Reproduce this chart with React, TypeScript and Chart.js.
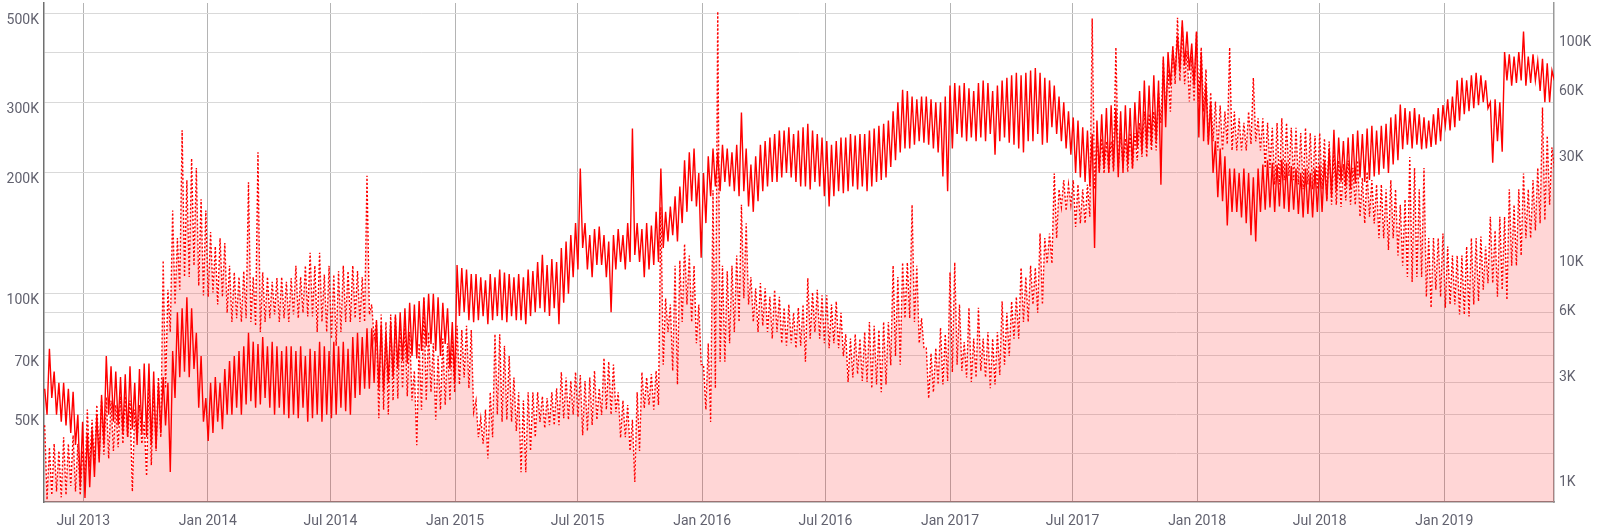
import React, { useEffect, useRef } from "react";
import { Chart, registerables } from "chart.js";

Chart.register(...registerables);

// Half-weekly samples starting 2013-05-05 (values in thousands):
// each pair = weekday high, weekend low
const START_DATE = "2013-05-05";
const STEP_DAYS = 3.5;

// Solid series (left axis)
const solid2013 = [58,50,73,55,64,50,60,48, 60,47,58,45,57,42,50,33, 48,31,45,33,46,35,50,38,56,42, 70,50,66,48,64,47,62,45, 63,44,66,46,60,42,65,45,67,44, 67,42,64,41,60,45,62,47, 60,36,72,55,90,62,92,64, 98,62,92,65,80,52,70,48,55,43];
const solid2014 = [60,45,62,48,60,46,65,50, 68,50,70,52,72,50,74,53, 80,54,76,52,75,53,78,55,74,52, 76,50,74,52,72,50,74,49, 74,50,72,49,74,52,70,48, 73,49,72,50,76,48,74,50,72,49, 76,50,74,52,76,51,73,50, 78,55,80,56,78,58,82,58, 82,60,86,58,84,57,80,60,85,62, 88,65,90,68,92,67,95,70, 94,69,96,72,98,74,100,75, 100,72,98,70,95,75,92,65,85,60];
const solid2015 = [118,88,116,90,115,86,112,85, 112,86,110,88,108,84,112,86, 110,88,115,86,113,85,112,88,110,86, 112,86,110,84,115,88,114,90, 120,92,125,90,118,88,122,92, 120,84,130,95,135,100,140,110,150,115, 205,130,150,115,140,110,145,118, 147,118,140,110,135,90,140,115, 145,120,140,115,150,120,258,125,150,120, 145,110,150,115,148,118,160,120, 205,130,160,135,165,140,175,135, 185,150,215,160,225,170,230,165,200,123];
const solid2016 = [200,150,220,175,230,185,225,180, 235,190,230,185,225,180,235,175, 283,180,230,165,210,160,220,170,235,180, 240,185,245,190,250,190,255,195, 255,200,260,195,250,190,255,185, 260,185,265,182,255,190,250,185,245,175, 240,165,235,175,240,180,245,178, 245,180,250,185,248,182,250,185, 250,180,255,185,258,190,262,192,265,195, 270,207,285,215,300,225,322,230, 320,230,310,235,305,240,310,238, 310,235,305,230,300,225,300,196,310,180];
const solid2017 = [330,230,335,250,330,245,335,240, 325,245,320,240,335,245,340,240, 335,250,320,222,330,240,340,245,345,238, 350,235,355,230,350,225,355,240, 360,240,365,250,355,235,345,238, 340,260,330,250,310,240,300,230,285,222, 275,200,270,195,260,190,255,185, 250,130,270,200,280,205,290,200, 295,205,290,195,285,200,295,210,290,205, 300,230,320,225,340,230,330,235, 350,240,340,187,390,260,400,330, 410,350,440,360,480,370,450,360,420,330];
const solid2018 = [450,245,400,240,335,235,300,200, 240,174,230,170,220,148,205,160, 205,160,200,155,205,150,200,140,195,135, 205,160,210,162,215,164,212,160, 210,165,216,163,212,160,208,162, 205,158,200,155,205,158,200,155,205,160, 210,160,215,170,230,175,256,180, 245,190,240,185,245,182,250,188, 255,195,250,190,258,192,262,196,255,198, 262,205,265,200,275,210,280,215, 296,229,290,235,285,230,290,235, 280,229,275,230,270,232,280,235,290,240];
const solid2019 = [295,262,305,255,310,260,340,270, 345,280,340,285,350,290,355,295, 350,300,340,290,300,212,305,240,300,226, 400,340,395,330,390,335,400,340, 450,330,390,335,395,340,380,320, 385,300,375,300,360,340];

// Dotted series (right axis)
const dotted2013 = [1.7,0.78,1.35,0.82,1.4,0.85,1.3,0.8, 1.5,0.82,1.4,0.9,1.53,0.85,1.4,0.82, 1.3,0.95,2.0,1.1,1.8,1.12,2.1,1.2,2.2,1.25, 2.28,1.2,2.2,1.3,2.1,1.35,2.3,1.4, 2.3,1.5,2.2,0.85,2.0,1.45,2.1,1.4,1.76,1.0, 2.87,1.12,2.6,1.3,2.8,1.5,9.5,2.5, 7,4.5,16,6,12,7,37,8, 22,8,27.6,9,25,7.3,18,6.6,16,6.5];
const dotted2014 = [12.8,6.8,11,6,12,6.5,11.4,5.5, 9,5,8.4,5.2,8.0,5,8.5,5.2, 21.5,5,8,4.8,29.4,4.5,8.4,5,8,5.2, 7.6,5.4,7.9,5,8,5.2,7.6,5, 7.9,5.4,9,5.2,8,5.5,9,5.3, 10.3,5.3,9.0,4.5,10.3,5,8.2,4.5,9,4.2, 8.2,3.9,8.5,4.5,9,5,8.5,5, 9,5.2,8.5,5,8,5,23,5.4, 6,4.2,5,1.83,5.4,2,5,1.9,5.4,2.2, 5.4,2.25,5,2.5,4.8,2.3,4.5,2.2, 3,1.38,4.0,2,6.4,2.2,4.5,2.4, 4.0,1.8,3.5,2.0,4.2,2.1,4.0,2.2,4.2,2.4];
const dotted2015 = [4.8,2.6,4.6,2.8,4.8,2.5,4.6,1.95, 2.2,1.5,1.83,1.4,2.0,1.2,2.4,1.5, 4.4,1.9,4.4,1.76,3.9,1.8,3.5,1.76,2.8,1.6, 2.4,1.04,2.2,1.04,2.4,1.3,2.4,1.5, 2.4,1.76,2.3,1.65,2.26,1.7,2.4,1.7, 2.5,1.7,2.96,1.83,2.8,1.8,2.7,1.9,2.96,1.85, 2.87,1.53,2.7,1.6,2.8,1.7,3.0,1.8, 2.5,1.89,3.43,2.0,3.3,1.9,3.2,1.95, 2.4,1.49,2.2,1.5,2.1,1.3,1.8,0.94,2.4,1.3, 2.96,2.03,2.8,2.1,2.9,2.0,3.0,2.1, 16.6,3.2,6.4,4.5,6,3,9,2.6, 9.5,5,11.3,6,10,5,9,4,6,3.2];
const dotted2016 = [3.2,2.0,4,1.76,19.8,2.5,128,3.3, 9,3.3,8.5,4,9,4.5,10,5, 17,6.4,14,6,8,5,7.1,4.5,7.5,4.8, 7.1,4.5,6.5,4.2,7,4.5,6.5,4, 5.8,3.9,6,4.0,5.5,3.8,5.8,3.9, 6,3.3,7.9,4.2,6.8,4.5,7,4.2,6.6,4, 6.6,3.8,6.0,4.0,6.2,3.8,5.5,3.5, 4.4,2.67,4.2,2.8,4.4,2.9,4.2,2.7, 4.5,2.67,5.0,2.5,4.8,2.6,4.6,2.4,5.0,2.6, 5.0,3.18,9.0,3.5,8,3.2,9.3,5.2, 9.3,5.2,17,5,9,4,5.2,3.8, 3.8,2.25,3.6,2.4,3.8,2.6,4.7,2.6,4.4,2.7];
const dotted2017 = [8.4,2.96,9.3,3.2,6,3,4.05,2.8, 5.8,2.67,4.2,2.8,5.8,3,4.2,2.8, 4.5,2.5,4.2,2.6,4.5,2.87,6.2,3.2,5.5,3.5, 6.2,4.2,6.5,4.2,8.8,5.0,8,5, 9,6,8.8,5.5,12.6,6,12,9.2, 12.6,9.2,23.6,12,20,16.6,22,16,21,17, 22,13.5,21,14,20,14,21,15, 119,20,36,24,34,23.6,33,24, 33,24,88,25,36,25,34,24,36,25, 36,27,40,28,45,28,44,30, 45,30,55,40,77,45,70,45, 90,60,120,62,110,60,85,50,80,50];
const dotted2018 = [103,50,88,45,70,33,55,33, 50,30,48,30,45,32,88,30, 45,30,42,30,40,30,45,32,64,33, 42,30,42,25,40,25,38,21, 40,21,42,22,40,23,38,22, 38,21,36,20,38,21,36,20,35,20, 36,20,34,18,33,17,30,17, 27,16.6,26,17.8,27,17,25,17, 27,15,22.5,14,24,15,22,14,21,12, 21,12,20,10.6,22,12,20,10, 17,9,18,8,28,7.6,25,8, 20,8,25,6.5,12,5.8,12,7,12,6.5];
const dotted2019 = [12.6,5.8,11,6,10,6,10,5.4, 10,5.4,11,5.3,12,6,12,6.2, 12.2,7,11,7.5,15,7.5,13,6.5,15,7, 15,6.3,20,9,17,9,20,10, 23.6,12,20,12,22,13,25,14, 47,14.5,35,17,31,25];

const X_START = "2013-05-04";
const X_END = "2019-06-12";
const X_TICK_LABELS = ["Jul 2013","Jan 2014","Jul 2014","Jan 2015","Jul 2015","Jan 2016","Jul 2016","Jan 2017","Jul 2017","Jan 2018","Jul 2018","Jan 2019"];

const LEFT_GRID = [40000,50000,60000,70000,80000,90000,100000,200000,300000,400000,500000];
const LEFT_LABELS = ["50K","70K","100K","200K","300K","500K"];
const RIGHT_TICKS = [1000,3000,6000,10000,30000,60000,100000];
const RIGHT_LABELS = ["1K","3K","6K","10K","30K","60K","100K"];

const dayOf = (iso: string) => Date.parse(iso + "T00:00:00Z") / 86400000;
const labelDay = (lbl: string) => {
  const m = lbl.startsWith("Jan") ? "01" : "07";
  return dayOf(lbl.slice(4) + "-" + m + "-01");
};
const fmtK = (v: number) => Math.round(v / 1000) + "K";

export default function App() {
  const ref = useRef<HTMLCanvasElement | null>(null);

  useEffect(() => {
    if (!ref.current) return;
    const start = dayOf(START_DATE);
    const solidAll = [...solid2013, ...solid2014, ...solid2015, ...solid2016, ...solid2017, ...solid2018, ...solid2019];
    const dottedAll = [...dotted2013, ...dotted2014, ...dotted2015, ...dotted2016, ...dotted2017, ...dotted2018, ...dotted2019];
    const solidData = solidAll.map((v, i) => ({ x: start + i * STEP_DAYS, y: v * 1000 }));
    const dottedData = dottedAll.map((v, i) => ({ x: start + i * STEP_DAYS, y: v * 1000 }));
    const tickFont = { family: "Roboto", size: 14 };
    const labelColor = "#62626f";
    const noPad = (s: any) => {
      s.paddingTop = 0;
      s.paddingBottom = 0;
    };

    const chart = new Chart(ref.current, {
      type: "line",
      data: {
        datasets: [
          {
            data: solidData,
            yAxisID: "yL",
            borderColor: "#ff0000",
            borderWidth: 1.4,
            pointRadius: 0,
            tension: 0,
            fill: false,
            order: 0,
          },
          {
            data: dottedData,
            yAxisID: "yR",
            borderColor: "#ff0000",
            borderWidth: 1.4,
            borderDash: [2, 2],
            backgroundColor: "rgba(255,0,0,0.16)",
            pointRadius: 0,
            tension: 0,
            fill: "start",
            order: 1,
          },
        ],
      },
      options: {
        animation: false,
        responsive: true,
        maintainAspectRatio: false,
        layout: { padding: { top: 3, left: 0, right: 0, bottom: 0 } },
        plugins: { legend: { display: false }, tooltip: { enabled: false } },
        scales: {
          x: {
            type: "linear",
            min: dayOf(X_START),
            max: dayOf(X_END),
            grid: { color: "#b4b4b4", drawTicks: false, lineWidth: 1 },
            border: { color: "#8a8a8a", width: 1.5 },
            afterBuildTicks: (s: any) => {
              s.ticks = X_TICK_LABELS.map((l) => ({ value: labelDay(l) }));
            },
            afterFit: (s: any) => {
              s.height = 27;
              s.paddingLeft = 0;
              s.paddingRight = 0;
            },
            ticks: {
              autoSkip: false,
              maxRotation: 0,
              font: tickFont,
              color: labelColor,
              padding: 11,
              callback: (v: any) => {
                const idx = X_TICK_LABELS.findIndex((l) => labelDay(l) === v);
                return idx >= 0 ? X_TICK_LABELS[idx] : "";
              },
            },
          },
          yL: {
            type: "logarithmic",
            position: "left",
            min: 30300,
            max: 530000,
            grid: { color: "#d9d9d9", drawTicks: false, lineWidth: 1 },
            border: { color: "#707070", width: 1.5 },
            afterBuildTicks: (s: any) => {
              s.ticks = LEFT_GRID.map((v) => ({ value: v }));
            },
            afterFit: (s: any) => {
              s.width = 44;
              noPad(s);
            },
            ticks: {
              font: tickFont,
              color: labelColor,
              padding: 5,
              labelOffset: 7,
              callback: (v: any) => {
                const l = fmtK(Number(v));
                return LEFT_LABELS.includes(l) ? l : "";
              },
            },
          },
          yR: {
            type: "logarithmic",
            position: "right",
            min: 762,
            max: 140000,
            grid: { display: false, drawTicks: false },
            border: { color: "#9a9a9a", width: 1.5 },
            afterBuildTicks: (s: any) => {
              s.ticks = RIGHT_TICKS.map((v) => ({ value: v }));
            },
            afterFit: (s: any) => {
              s.width = 46;
              noPad(s);
            },
            ticks: {
              font: tickFont,
              color: labelColor,
              padding: 5,
              labelOffset: 7,
              callback: (v: any) => {
                const i = RIGHT_TICKS.indexOf(Number(v));
                return i >= 0 ? RIGHT_LABELS[i] : "";
              },
            },
          },
        },
      },
    } as any);
    return () => chart.destroy();
  }, []);

  return (
    <div style={{ position: "fixed", left: 0, top: 0, width: "1600px", height: "529px", background: "#fff" }}>
      <canvas ref={ref} />
    </div>
  );
}
